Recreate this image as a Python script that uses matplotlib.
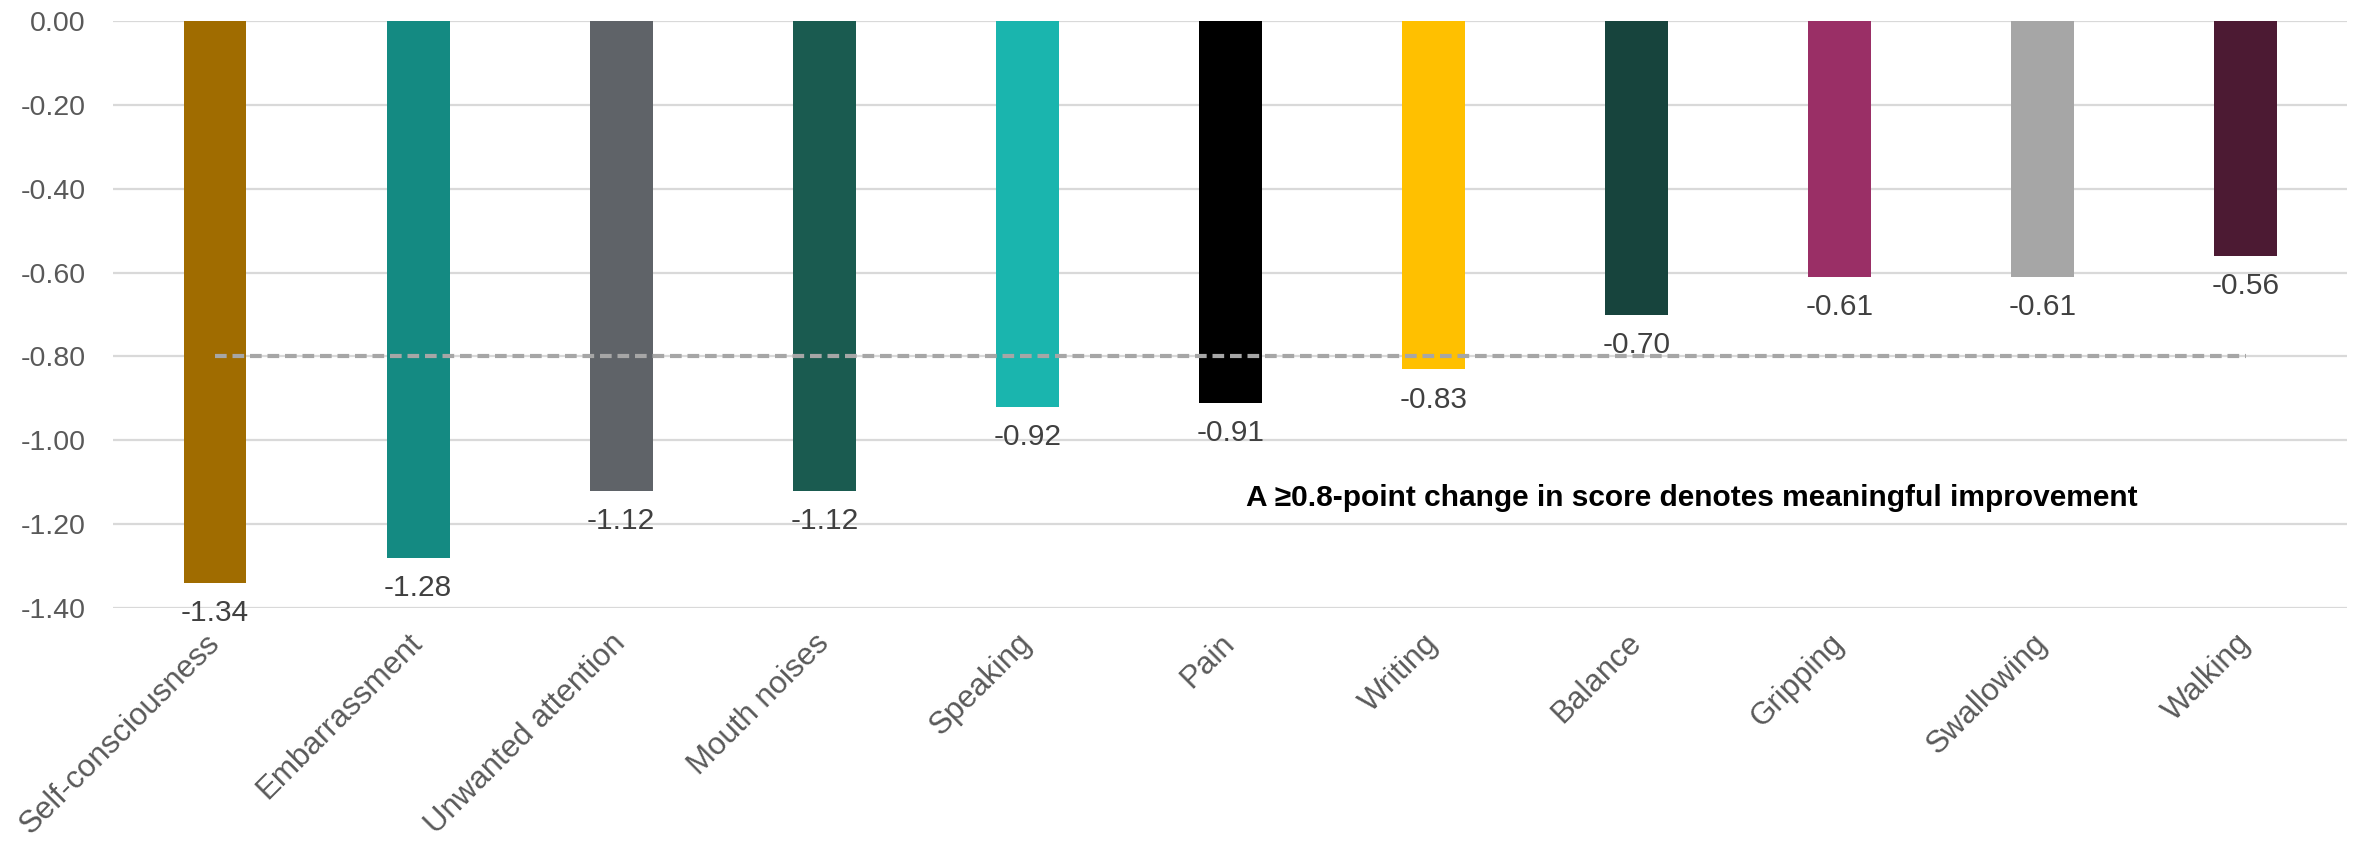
import matplotlib.pyplot as plt

# Data
categories = ["Self-consciousness", "Embarrassment", "Unwanted attention",
              "Mouth noises", "Speaking", "Pain", "Writing", "Balance",
              "Gripping", "Swallowing", "Walking"]
changes = [-1.34, -1.28, -1.12, -1.12, -0.92, -0.91, -0.83, -0.70,
           -0.61, -0.61, -0.56]
bar_colors = ["#A06C00", "#148A82", "#5F6368", "#1A5B50", "#1AB5AE",
              "#000000", "#FFC000", "#17443D", "#9A2F66", "#A6A6A6", "#4C1A33"]
threshold = -0.8
y_ticks = [0.0, -0.2, -0.4, -0.6, -0.8, -1.0, -1.2, -1.4]
note = "A \u22650.8-point change in score denotes meaningful improvement"

plt.rcParams["font.family"] = ["Liberation Sans", "DejaVu Sans"]

fig = plt.figure(figsize=(23.64, 8.44), dpi=100)
ax = fig.add_axes([0.048, 0.2796, 0.945, 0.6955])

x = list(range(len(categories)))
ax.bar(x, changes, width=0.31, color=bar_colors, zorder=3)

# Value labels below each bar
for xi, v in zip(x, changes):
    ax.annotate(f"{v:.2f}", (xi, v), xytext=(0, -22), textcoords="offset points",
                ha="center", va="center", fontsize=21.5, color="#404040", zorder=4)

# Threshold line
ax.plot([x[0], x[-1]], [threshold, threshold], color="#A6A6A6",
        linestyle=(0, (2.8, 1.4)), linewidth=3, zorder=4)

ax.text(7.27, -1.138, note, ha="center", va="center", fontsize=21.5,
        fontweight="bold", color="black", zorder=5)

ax.set_xlim(-0.5, len(categories) - 0.5)
ax.set_ylim(-1.4, 0.0)
ax.set_yticks(y_ticks)
ax.set_yticklabels([f"{t:.2f}" for t in y_ticks])
ax.yaxis.grid(True, color="#D9D9D9", linewidth=1.6, zorder=0)
ax.set_axisbelow(True)
ax.set_xticks(x)
ax.set_xticklabels(categories, rotation=45, ha="right", va="center",
                   rotation_mode="anchor")
ax.tick_params(axis="y", length=0, pad=20, labelsize=20.5, labelcolor="#595959")
ax.tick_params(axis="x", length=0, pad=22, labelsize=22.5, labelcolor="#595959")
for s in ax.spines.values():
    s.set_visible(False)

fig.savefig("out.png", dpi=100)
